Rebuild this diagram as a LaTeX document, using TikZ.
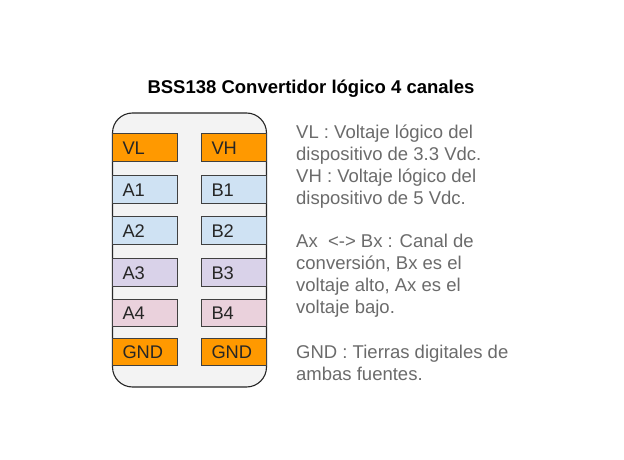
\documentclass[tikz,border=0pt]{standalone}
\usepackage{fontspec}
\setmainfont{Liberation Sans}
\definecolor{pinorange}{HTML}{FF9900}
\definecolor{pinblue}{HTML}{CFE2F3}
\definecolor{pinpurple}{HTML}{D9D2E9}
\definecolor{pinpink}{HTML}{EAD1DC}
\definecolor{bodyfill}{HTML}{F3F3F3}
\definecolor{descgray}{HTML}{6B6B6B}
\definecolor{pintext}{HTML}{262626}
\begin{document}
\begin{tikzpicture}[x=1pt,y=-1pt,
  pin/.style={draw=black!75, line width=0.9pt, rectangle, minimum width=65pt, minimum height=27.5pt,
    text width=45pt, inner xsep=10pt, align=left, text height=13pt, text depth=0pt,
    font=\fontsize{18.3}{22}\selectfont, text=pintext},
  desc/.style={anchor=base west, inner sep=0pt, font=\fontsize{18.5}{22}\selectfont, text=descgray},
  titlestyle/.style={anchor=base, inner sep=0pt, font=\fontsize{18.5}{22}\selectfont\bfseries, text=black}]
\useasboundingbox (0,0) rectangle (624,460);
\fill[white] (0,0) rectangle (624,460);
\node[titlestyle] (title) at (311,94) {BSS138 Convertidor lógico 4 canales};
\draw[fill=bodyfill, draw=black!85, line width=1.1pt, rounded corners=20pt] (112.5,113) rectangle (266.5,387);
\node[pin, fill=pinorange] (vl) at (145,147.5) {VL};
\node[pin, fill=pinorange] (vh) at (234,147.5) {VH};
\node[pin, fill=pinblue] (a1) at (145,189.5) {A1};
\node[pin, fill=pinblue] (b1) at (234,189.5) {B1};
\node[pin, fill=pinblue] (a2) at (145,230.5) {A2};
\node[pin, fill=pinblue] (b2) at (234,230.5) {B2};
\node[pin, fill=pinpurple] (a3) at (145,272.5) {A3};
\node[pin, fill=pinpurple] (b3) at (234,272.5) {B3};
\node[pin, fill=pinpink] (a4) at (145,313) {A4};
\node[pin, fill=pinpink] (b4) at (234,313) {B4};
\node[pin, fill=pinorange] (gndl) at (145,352) {GND};
\node[pin, fill=pinorange] (gndr) at (234,352) {GND};
\node[desc] (d1) at (296,138) {VL : Voltaje lógico del};
\node[desc] (d2) at (296,160) {dispositivo de 3.3 Vdc.};
\node[desc] (d3) at (296,182) {VH : Voltaje lógico del};
\node[desc] (d4) at (296,204) {dispositivo de 5 Vdc.};
\node[desc] (d5) at (296,247) {Ax\ \ <-> Bx : Canal de};
\node[desc] (d6) at (296,269) {conversión, Bx es el};
\node[desc] (d7) at (296,291) {voltaje alto, Ax es el};
\node[desc] (d8) at (296,313) {voltaje bajo.};
\node[desc] (d9) at (296,358) {GND : Tierras digitales de};
\node[desc] (d10) at (296,380) {ambas fuentes.};
\end{tikzpicture}
\end{document}
